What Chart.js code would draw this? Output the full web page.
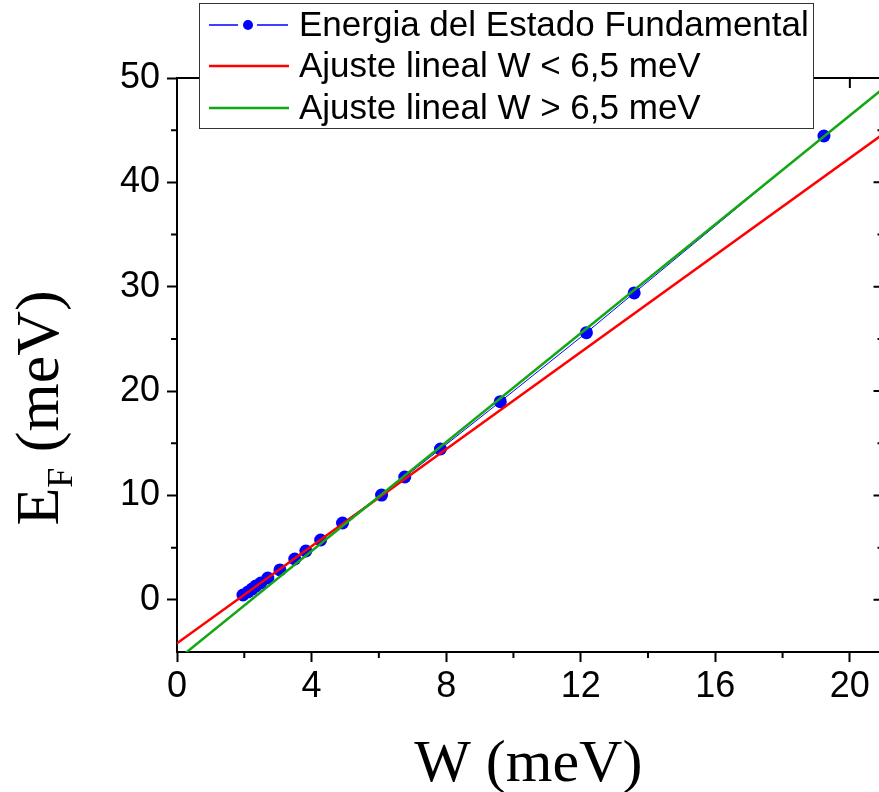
<!DOCTYPE html>
<html>
<head>
<meta charset="utf-8">
<script src="https://cdn.jsdelivr.net/npm/chart.js@4.4.1/dist/chart.umd.min.js"></script>
<style>
  html, body { margin: 0; padding: 0; background: #fff; overflow: hidden; }
  #wrap { width: 890px; height: 792px; position: relative; }
</style>
</head>
<body>
<div id="wrap"><canvas id="chart"></canvas></div>
<script>
// --- DATOS ---
const wValues = [1.96, 2.11, 2.23, 2.34, 2.49, 2.70, 3.06, 3.50, 3.83, 4.27, 4.92, 6.08, 6.77, 7.83, 9.61, 12.17, 13.59, 19.23];
const efValues = [0.46, 0.75, 1.03, 1.32, 1.61, 2.09, 2.86, 3.91, 4.68, 5.73, 7.36, 10.04, 11.77, 14.45, 18.99, 25.60, 29.41, 44.44];

// Extremos de las rectas de ajuste
const fitX = [0, 21];
const fitLowY = [-4.17, 44.66];
const fitHighY = [-5.76, 49.01];

const xTicks = [0, 4, 8, 12, 16, 20];
const xMinorTicks = [2, 6, 10, 14, 18];
const yTicks = [0, 10, 20, 30, 40, 50];
const yMinorTicks = [5, 15, 25, 35, 45];

const legendLabels = [
    'Energia del Estado Fundamental',
    'Ajuste lineal W < 6,5 meV',
    'Ajuste lineal W > 6,5 meV'
];
const seriesColors = ['#0000ff', '#ff0000', '#13a813'];

const toPoints = (xs, ys) => xs.map((x, i) => ({ x: x, y: ys[i] }));

/**
 * Ejes superior/derecho, ticks menores, leyenda y títulos.
 */
const framePlugin = {
    id: 'frame',
    afterDraw: (chart) => {
        const ctx = chart.ctx;
        const area = chart.chartArea;
        const xs = chart.scales.x;
        const ys = chart.scales.y;

        ctx.save();
        ctx.strokeStyle = '#000';
        ctx.lineWidth = 2;

        // ejes superior y derecho
        ctx.beginPath();
        ctx.moveTo(area.left, area.top);
        ctx.lineTo(area.right, area.top);
        ctx.lineTo(area.right, area.bottom);
        ctx.stroke();

        ctx.beginPath();
        xTicks.forEach(v => {
            const px = xs.getPixelForValue(v);
            ctx.moveTo(px, area.top); ctx.lineTo(px, area.top + 10);
        });
        xMinorTicks.forEach(v => {
            const px = xs.getPixelForValue(v);
            ctx.moveTo(px, area.top); ctx.lineTo(px, area.top + 6);
            ctx.moveTo(px, area.bottom); ctx.lineTo(px, area.bottom + 6);
        });
        yTicks.forEach(v => {
            const py = ys.getPixelForValue(v);
            ctx.moveTo(area.right, py); ctx.lineTo(area.right - 10, py);
        });
        yMinorTicks.forEach(v => {
            const py = ys.getPixelForValue(v);
            ctx.moveTo(area.right, py); ctx.lineTo(area.right - 6, py);
            ctx.moveTo(area.left, py); ctx.lineTo(area.left - 6, py);
        });
        ctx.stroke();

        // leyenda
        const box = { x: 199, y: 3, w: 614, h: 125 };
        ctx.fillStyle = '#fff';
        ctx.fillRect(box.x, box.y, box.w, box.h);
        ctx.lineWidth = 1;
        ctx.strokeStyle = '#333';
        ctx.strokeRect(box.x + 0.5, box.y + 0.5, box.w, box.h);

        const rows = [25, 66, 108];
        ctx.font = '35px "Liberation Sans", Arial, sans-serif';
        ctx.textBaseline = 'middle';
        legendLabels.forEach((label, i) => {
            const y = rows[i];
            ctx.strokeStyle = seriesColors[i];
            if (i === 0) {
                ctx.lineWidth = 1.5;
                ctx.beginPath();
                ctx.moveTo(209, y); ctx.lineTo(238, y);
                ctx.moveTo(257, y); ctx.lineTo(288, y);
                ctx.stroke();
                ctx.fillStyle = seriesColors[i];
                ctx.beginPath();
                ctx.arc(248, y, 5, 0, Math.PI * 2);
                ctx.fill();
            } else {
                ctx.lineWidth = 2.5;
                ctx.beginPath();
                ctx.moveTo(209, y); ctx.lineTo(289, y);
                ctx.stroke();
            }
            ctx.fillStyle = '#000';
            ctx.fillText(label, 299, y + 1);
        });

        // título eje X
        ctx.fillStyle = '#000';
        ctx.textBaseline = 'alphabetic';
        ctx.textAlign = 'center';
        ctx.font = '60px "Liberation Serif", "Times New Roman", serif';
        ctx.fillText('W (meV)', (area.left + area.right) / 2 - 2, 781);

        // título eje Y con subíndice
        const bigFont = '62px "Liberation Serif", "Times New Roman", serif';
        const subFont = '36px "Liberation Serif", "Times New Roman", serif';
        ctx.textAlign = 'left';
        ctx.font = bigFont;
        const wE = ctx.measureText('E').width;
        const wRest = ctx.measureText(' (meV)').width;
        ctx.font = subFont;
        const wF = ctx.measureText('F').width;
        const total = wE + wF + wRest;

        ctx.translate(58, 408);
        ctx.rotate(-Math.PI / 2);
        let tx = -total / 2;
        ctx.font = bigFont;
        ctx.fillText('E', tx, 0);
        tx += wE;
        ctx.font = subFont;
        ctx.fillText('F', tx, 14);
        tx += wF;
        ctx.font = bigFont;
        ctx.fillText(' (meV)', tx, 0);

        ctx.restore();
    }
};

const tickFont = { family: '"Liberation Sans", Arial, sans-serif', size: 36 };

new Chart(document.querySelector('#chart'), {
    type: 'scatter',
    data: {
        datasets: [
            {
                label: legendLabels[0],
                data: toPoints(wValues, efValues),
                showLine: true,
                borderColor: seriesColors[0],
                borderWidth: 1,
                backgroundColor: seriesColors[0],
                pointRadius: 6.5,
                pointBorderWidth: 0,
                order: 2
            },
            {
                label: legendLabels[1],
                data: toPoints(fitX, fitLowY),
                showLine: true,
                borderColor: seriesColors[1],
                borderWidth: 2.5,
                pointRadius: 0,
                order: 1
            },
            {
                label: legendLabels[2],
                data: toPoints(fitX, fitHighY),
                showLine: true,
                borderColor: seriesColors[2],
                borderWidth: 2.5,
                pointRadius: 0,
                order: 0
            }
        ]
    },
    options: {
        responsive: true,
        maintainAspectRatio: false,
        animation: false,
        layout: { padding: { top: 78, right: 5, left: 0, bottom: 0 } },
        plugins: {
            legend: { display: false },
            tooltip: { enabled: false }
        },
        scales: {
            x: {
                type: 'linear',
                min: 0,
                max: 21,
                afterFit: (scale) => { scale.height = 140; },
                border: { display: true, color: '#000', width: 2 },
                grid: {
                    drawOnChartArea: false,
                    tickLength: 10,
                    tickWidth: 2,
                    tickColor: (c) => (c.tick && c.tick.value % 4 === 0) ? '#000' : 'rgba(0,0,0,0)'
                },
                ticks: {
                    stepSize: 2,
                    includeBounds: false,
                    maxRotation: 0,
                    autoSkip: false,
                    padding: 3,
                    color: '#000',
                    font: tickFont,
                    callback: (v) => v % 4 === 0 ? String(v) : ''
                }
            },
            y: {
                type: 'linear',
                min: -5,
                max: 50,
                afterFit: (scale) => { scale.width = 177; },
                border: { display: true, color: '#000', width: 2 },
                grid: {
                    drawOnChartArea: false,
                    tickLength: 10,
                    tickWidth: 2,
                    tickColor: (c) => (c.tick && c.tick.value % 10 === 0) ? '#000' : 'rgba(0,0,0,0)'
                },
                ticks: {
                    stepSize: 5,
                    autoSkip: false,
                    padding: 7,
                    color: '#000',
                    font: tickFont,
                    callback: (v) => v % 10 === 0 ? String(v) : ''
                }
            }
        }
    },
    plugins: [framePlugin]
});
</script>
</body>
</html>
